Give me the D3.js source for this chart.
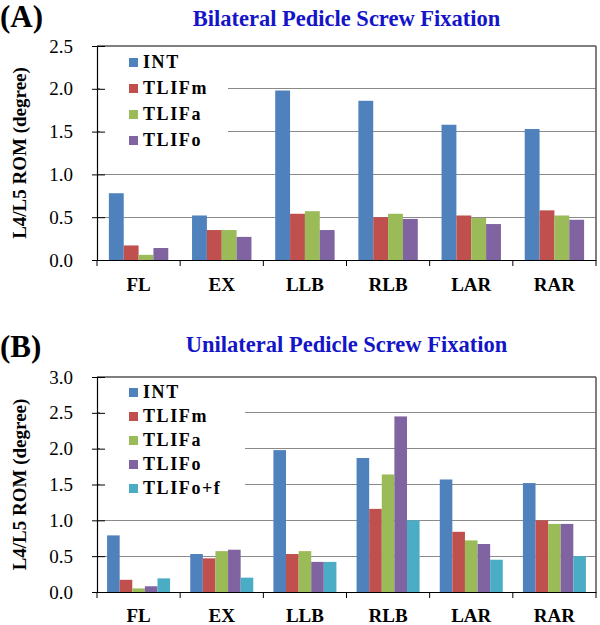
<!DOCTYPE html>
<html><head><meta charset="utf-8">
<script src="https://cdn.jsdelivr.net/npm/d3@7"></script>
<style>
html,body{margin:0;padding:0;background:#fff;}
</style></head>
<body>
<svg id="chart" width="600" height="625"></svg>
<script>
const categories = ["FL","EX","LLB","RLB","LAR","RAR"];
const seriesA = ["INT","TLIFm","TLIFa","TLIFo"];
const valuesA_INT   = [0.78, 0.52, 1.98, 1.86, 1.58, 1.53];
const valuesA_TLIFm = [0.17, 0.35, 0.54, 0.50, 0.52, 0.58];
const valuesA_TLIFa = [0.06, 0.35, 0.57, 0.54, 0.49, 0.52];
const valuesA_TLIFo = [0.14, 0.27, 0.35, 0.48, 0.42, 0.47];
const seriesB = ["INT","TLIFm","TLIFa","TLIFo","TLIFo+f"];
const valuesB_INT   = [0.79, 0.53, 1.98, 1.87, 1.57, 1.52];
const valuesB_TLIFm = [0.17, 0.47, 0.53, 1.16, 0.84, 1.00];
const valuesB_TLIFa = [0.05, 0.57, 0.57, 1.64, 0.72, 0.95];
const valuesB_TLIFo = [0.08, 0.59, 0.42, 2.45, 0.67, 0.95];
const valuesB_TLIFof= [0.19, 0.20, 0.42, 1.00, 0.45, 0.50];
const ticksA = [0,0.5,1.0,1.5,2.0,2.5];
const ticksB = [0,0.5,1.0,1.5,2.0,2.5,3.0];
const colors = {"INT":"#4F81BD","TLIFm":"#C0504D","TLIFa":"#9BBB59","TLIFo":"#8064A2","TLIFo+f":"#4BACC6"};
const FONT = '"Liberation Serif"';

const svg = d3.select("#chart");

function txt(sel){ return sel.attr("font-family","Liberation Serif").style("font-family",FONT); }

function panel(cfg){
  const {label, title, titleY, labelY, top, bottom, left, right, ymax, ticks, series, values, legend, xLabY} = cfg;
  const g = svg.append("g");
  const x0 = d3.scaleBand().domain(categories).range([left,right]).padding(0);
  const bw = x0.bandwidth();
  const barW = bw/(series.length+1.6);
  const gap = barW*0.8;
  const x1 = d3.scaleBand().domain(series).range([gap, bw-gap]).padding(0);
  const y = d3.scaleLinear().domain([0,ymax]).range([bottom,top]);

  txt(g.append("text")).attr("x",0).attr("y",labelY).attr("font-size",31).attr("font-weight","bold").attr("fill","#000").text(label);
  txt(g.append("text")).attr("x",(left+right)/2).attr("y",titleY).attr("text-anchor","middle")
    .attr("font-size",22.5).attr("font-weight","bold").attr("fill","#1414C8").text(title);

  g.append("g").selectAll("line").data(ticks.filter(t=>t>0 && t<ymax)).join("line")
    .attr("x1",left).attr("x2",right).attr("y1",d=>y(d)).attr("y2",d=>y(d))
    .attr("stroke","#8a8a8a").attr("stroke-width",1).attr("shape-rendering","crispEdges");
  g.append("line").attr("x1",left).attr("x2",right).attr("y1",y(ymax)).attr("y2",y(ymax))
    .attr("stroke","#555").attr("stroke-width",1.5);
  g.append("line").attr("x1",right).attr("x2",right).attr("y1",y(ymax)).attr("y2",bottom)
    .attr("stroke","#555").attr("stroke-width",1.5);

  const rows = [];
  categories.forEach((c,i)=>series.forEach((s,j)=>rows.push({c, s, v: values[j][i]})));
  g.append("g").selectAll("rect").data(rows).join("rect")
    .attr("x",d=>x0(d.c)+x1(d.s)).attr("width",x1.bandwidth())
    .attr("y",d=>y(d.v)).attr("height",d=>bottom-y(d.v))
    .attr("fill",d=>colors[d.s]);

  g.append("rect").attr("x",legend.x0).attr("y",legend.y0).attr("width",legend.x1-legend.x0).attr("height",legend.y1-legend.y0).attr("fill","#fff");
  const lg = g.append("g").selectAll("g").data(series).join("g")
    .attr("transform",(d,i)=>`translate(${legend.sx},${legend.by + i*legend.step})`);
  lg.append("rect").attr("x",0).attr("y",-10).attr("width",9).attr("height",9).attr("fill",d=>colors[d]);
  txt(lg.append("text")).attr("x",14).attr("y",0).attr("font-size",18).attr("font-weight","bold")
    .attr("letter-spacing",1.6).attr("fill","#000").text(d=>d);

  const ya = d3.axisLeft(y).tickValues(ticks).tickFormat(d3.format(".1f")).tickSizeInner(0).tickSizeOuter(0).tickPadding(24);
  const yg = g.append("g").attr("transform",`translate(${left},0)`).call(ya);
  yg.attr("font-family","Liberation Serif");
  yg.select(".domain").attr("stroke","#000").attr("stroke-width",1.2);
  txt(yg.selectAll("text")).attr("font-size",19).attr("fill","#000");
  yg.selectAll(".tick").append("line").attr("x1",-5).attr("x2",8).attr("stroke","#000").attr("stroke-width",1);

  const xa = d3.axisBottom(x0).tickSize(0).tickPadding(0);
  const xg = g.append("g").attr("transform",`translate(0,${bottom})`).call(xa);
  xg.attr("font-family","Liberation Serif");
  xg.select(".domain").attr("stroke","#000").attr("stroke-width",1.2);
  txt(xg.selectAll("text")).attr("font-size",19).attr("font-weight","bold").attr("fill","#000")
    .attr("dy",null).attr("y",xLabY);
  const bounds = categories.map(c=>x0(c)).concat([right]);
  xg.append("g").selectAll("line").data(bounds).join("line")
    .attr("x1",d=>d).attr("x2",d=>d).attr("y1",0).attr("y2",6).attr("stroke","#000").attr("stroke-width",1);

  txt(g.append("text")).attr("transform",`translate(26,${(top+bottom)/2}) rotate(-90)`)
    .attr("text-anchor","middle").attr("font-size",19).attr("font-weight","bold").attr("fill","#000")
    .text("L4/L5 ROM (degree)");
}

panel({label:"(A)", title:"Bilateral Pedicle Screw Fixation", titleY:26, labelY:27,
  top:46, bottom:260, left:97, right:596, ymax:2.5, ticks:ticksA, series:seriesA,
  values:[valuesA_INT,valuesA_TLIFm,valuesA_TLIFa,valuesA_TLIFo], xLabY:31,
  legend:{x0:100,x1:228,y0:50,y1:155,sx:129,by:68,step:26}});

panel({label:"(B)", title:"Unilateral Pedicle Screw Fixation", titleY:352, labelY:357,
  top:377, bottom:592, left:97, right:596, ymax:3.0, ticks:ticksB, series:seriesB,
  values:[valuesB_INT,valuesB_TLIFm,valuesB_TLIFa,valuesB_TLIFo,valuesB_TLIFof], xLabY:30,
  legend:{x0:100,x1:245,y0:380,y1:503,sx:129,by:398,step:24}});

svg.selectAll("text").each(function(){ this.getComputedTextLength(); });
</script>
</body></html>
